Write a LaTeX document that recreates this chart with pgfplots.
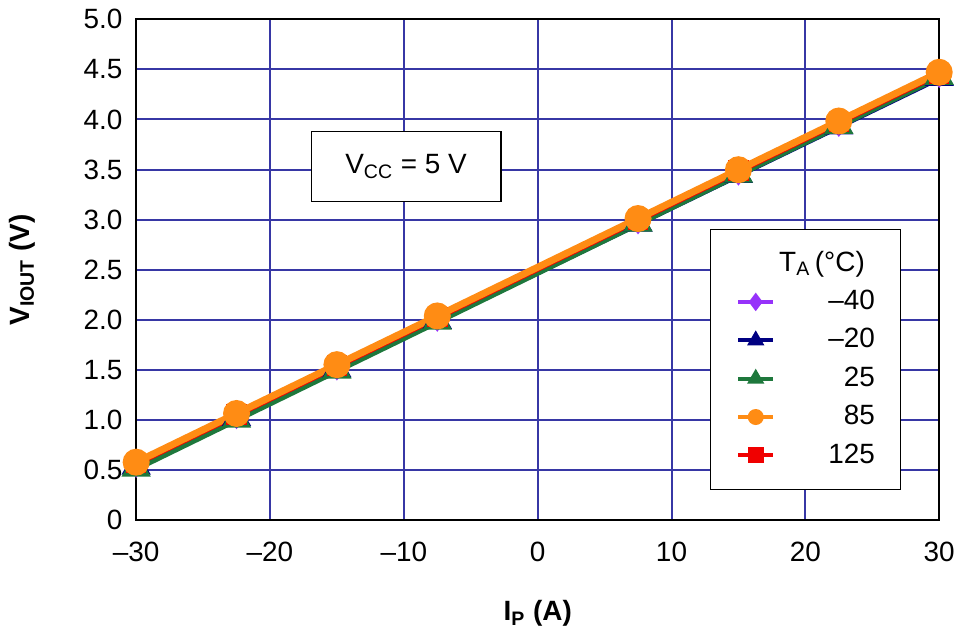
\documentclass[border=0pt]{standalone}
\usepackage{pgfplots}
\pgfplotsset{compat=1.18}
\usepackage{fontspec}
\setmainfont{Liberation Sans}
\definecolor{gridblue}{RGB}{55,55,165}
\definecolor{cpurple}{RGB}{150,50,250}
\definecolor{cnavy}{RGB}{0,0,130}
\definecolor{cgreen}{RGB}{30,120,60}
\definecolor{corange}{RGB}{255,140,20}
\definecolor{cred}{RGB}{240,0,0}
\newcommand{\fs}{\fontsize{14}{17}\selectfont}
\begin{document}
\fs
\begin{tikzpicture}
\begin{axis}[
  scale only axis,
  width=403pt, height=251.5pt,
  xmin=-30, xmax=30, ymin=0, ymax=5,
  xtick={-30,-20,-10,0,10,20,30},
  xticklabels={–30,–20,–10,0,10,20,30},
  ytick={0,0.5,1,1.5,2,2.5,3,3.5,4,4.5,5},
  yticklabels={0,0.5,1.0,1.5,2.0,2.5,3.0,3.5,4.0,4.5,5.0},
  tick label style={font=\fs},
  xticklabel style={yshift=-6pt},
  yticklabel style={xshift=-2pt},
  major tick length=0pt,
  grid=major,
  major grid style={color=gridblue, line width=1pt},
  axis line style={black, line width=1.1pt},
  xlabel={\textbf{I\textsubscript{P} (A)}},
  ylabel={\textbf{V\textsubscript{IOUT} (V)}},
  xlabel style={font=\fs, at={(axis description cs:0.5,-0.2008)}, anchor=base},
  ylabel style={font=\fs, at={(axis description cs:-0.1328,0.5)}, anchor=base},
  legend cell align=right,
  legend style={font=\fs, at={(0.953,0.06)}, anchor=south east, draw=black, line width=0.75pt,
    inner xsep=13pt, inner ysep=7.5pt, column sep=26pt,
    nodes={inner sep=0pt, minimum height=19.25pt}},
  legend image code/.code={\draw[mark repeat=2,mark phase=2,#1,line width=2pt,mark size=3pt] plot coordinates {(0pt,0pt)(8.75pt,0pt)(17.5pt,0pt)};},
]
\addlegendimage{empty legend}
\addlegendentry{\makebox[24pt][r]{T\textsubscript{A}\,(°C)\hspace{5pt}}}
\addplot[cpurple, line width=3.5pt, mark=diamond*, mark size=4pt, mark options={solid}] coordinates {
(-30,0.56) (-22.5,1.046) (-15,1.532) (-7.5,2.018) (7.5,2.990) (15,3.476) (22.5,3.962) (30,4.45)};
\addlegendentry{–40}
\addplot[cnavy, line width=3.5pt, mark=triangle*, mark size=5pt, mark options={solid}] coordinates {
(-30,0.54) (-22.5,1.025) (-15,1.51) (-7.5,1.995) (7.5,2.965) (15,3.45) (22.5,3.935) (30,4.42)};
\addlegendentry{–20}
\addplot[cgreen, line width=3.5pt, mark=triangle*, mark size=5pt, mark options={solid}] coordinates {
(-30,0.52) (-22.5,1.009) (-15,1.498) (-7.5,1.986) (7.5,2.964) (15,3.453) (22.5,3.941) (30,4.43)};
\addlegendentry{25}
\addplot[cred, line width=3.5pt, mark=square*, mark size=3.4pt, mark options={solid}, forget plot] coordinates {
(-30,0.57) (-22.5,1.056) (-15,1.543) (-7.5,2.029) (7.5,3.001) (15,3.488) (22.5,3.974) (30,4.46)};
\addplot[corange, line width=3.5pt, mark=*, mark size=5pt, mark options={solid}] coordinates {
(-30,0.58) (-22.5,1.066) (-15,1.553) (-7.5,2.039) (7.5,3.011) (15,3.498) (22.5,3.984) (30,4.47)};
\addlegendentry{85}
\addlegendimage{cred, mark=square*, mark options={solid}}
\addlegendentry{125}
\node[draw=black, line width=0.75pt, fill=white, minimum width=95pt, minimum height=35pt, font=\fs] at (axis cs:-9.83,3.53) {V\textsubscript{CC} = 5 V};
\end{axis}
\end{tikzpicture}
\end{document}
